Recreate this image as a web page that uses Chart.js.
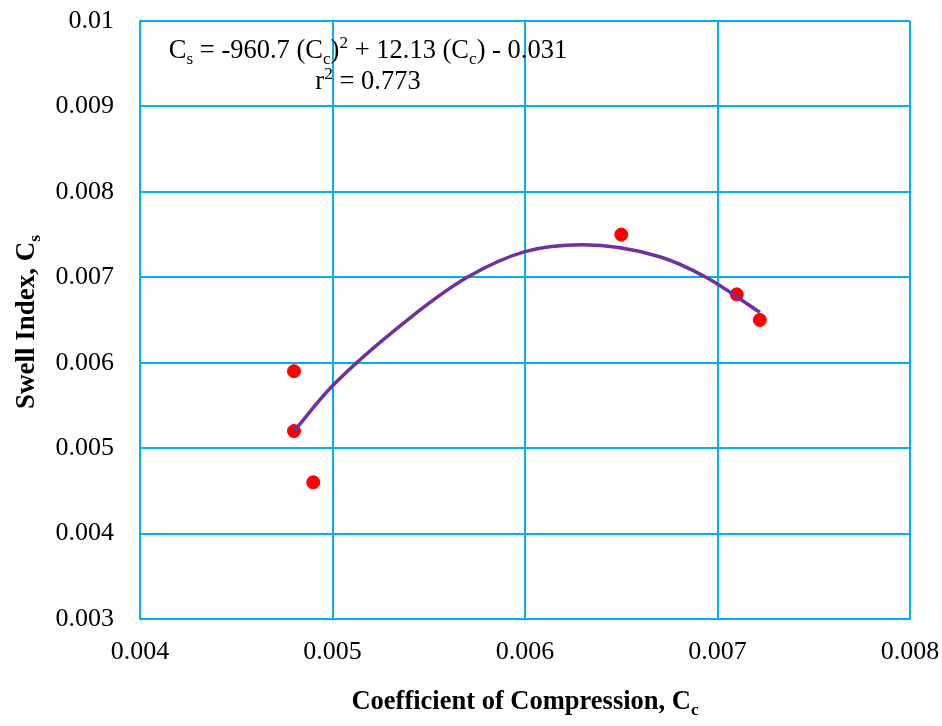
<!DOCTYPE html>
<html>
<head>
<meta charset="utf-8">
<script src="https://cdn.jsdelivr.net/npm/chart.js@4.4.1/dist/chart.umd.min.js"></script>
<style>
  html, body { margin: 0; padding: 0; background: #fff; }
  #wrap { width: 942px; height: 726px; }
</style>
</head>
<body>
<div id="wrap"><canvas id="graficoSwell" width="942" height="726"></canvas></div>
<script>
// dados medidos (Cc, Cs)
const ccMedido = [0.0048, 0.0048, 0.0049, 0.0065, 0.0071, 0.00722];
const csMedido = [0.0059, 0.0052, 0.0046, 0.0075, 0.0068, 0.0065];

// linha de tendência
const ccTendencia = [0.0048, 0.0050, 0.0054, 0.0057, 0.0060, 0.0063, 0.0067, 0.00694, 0.00722];
const csTendencia = [0.0052, 0.00573, 0.00652, 0.0070, 0.0073, 0.00738, 0.00724, 0.0070, 0.00659];

const xTicks = ['0.004', '0.005', '0.006', '0.007', '0.008'];
const yTicks = ['0.003', '0.004', '0.005', '0.006', '0.007', '0.008', '0.009', '0.01'];

const azulGrade = '#00B0F0';
const fonte = "'Liberation Serif', 'Times New Roman', serif";

// desenha texto com subscrito / sobrescrito, centrado em x
function textoRico(ctx, partes, x, y, tamanho, negrito) {
  const peso = negrito ? 'bold ' : '';
  const tam = p => (p.sub || p.sup ? tamanho * 0.65 : tamanho);
  let total = 0;
  partes.forEach(p => {
    ctx.font = peso + tam(p) + 'px ' + fonte;
    total += ctx.measureText(p.t).width;
  });
  let cx = x - total / 2;
  partes.forEach(p => {
    ctx.font = peso + tam(p) + 'px ' + fonte;
    let dy = 0;
    if (p.sub) dy = tamanho * 0.22;
    if (p.sup) dy = -tamanho * 0.36;
    ctx.fillText(p.t, cx, y + dy);
    cx += ctx.measureText(p.t).width;
  });
}

const textos = {
  id: 'textos',
  beforeDraw(chart) {
    const c = chart.ctx;
    c.save();
    c.fillStyle = '#fff';
    c.fillRect(0, 0, chart.width, chart.height);
    c.restore();
  },
  afterDraw(chart) {
    const c = chart.ctx;
    c.save();
    c.fillStyle = '#000';
    c.textBaseline = 'alphabetic';
    c.textAlign = 'left';
    // equação
    textoRico(c, [
      { t: 'C' }, { t: 's', sub: true }, { t: ' = -960.7 (C' }, { t: 'c', sub: true }, { t: ')' },
      { t: '2', sup: true }, { t: ' + 12.13 (C' }, { t: 'c', sub: true }, { t: ') - 0.031' }
    ], 368, 58, 26.5, false);
    textoRico(c, [{ t: 'r' }, { t: '2', sup: true }, { t: ' = 0.773' }], 368, 89, 26.5, false);
    // título eixo x
    textoRico(c, [{ t: 'Coefficient of Compression, C' }, { t: 'c', sub: true }], 525, 709, 26.5, true);
    // título eixo y
    c.translate(34, 322);
    c.rotate(-Math.PI / 2);
    textoRico(c, [{ t: 'Swell Index, C' }, { t: 's', sub: true }], 0, 0, 27, true);
    c.restore();
  }
};

const ctx = document.getElementById('graficoSwell').getContext('2d');

const meuGrafico = new Chart(ctx, {
  type: 'scatter',
  data: {
    datasets: [{
      label: 'Medido',
      data: ccMedido.map((x, i) => ({ x: x, y: csMedido[i] })),
      backgroundColor: '#FF0000',
      borderColor: '#FF0000',
      pointRadius: 6.5,
      pointHoverRadius: 6.5,
      order: 2
    }, {
      label: 'Tendência',
      data: ccTendencia.map((x, i) => ({ x: x, y: csTendencia[i] })),
      showLine: true,
      borderColor: '#7030A0',
      borderWidth: 3.5,
      pointRadius: 0,
      cubicInterpolationMode: 'monotone',
      fill: false,
      order: 1
    }]
  },
  options: {
    responsive: false,
    animation: false,
    layout: { padding: { top: 21, right: 32, left: 0, bottom: 0 } },
    plugins: {
      legend: { display: false },
      tooltip: { enabled: false }
    },
    scales: {
      x: {
        type: 'linear',
        min: 0.004,
        max: 0.008,
        afterFit: s => {
          s.height = 726 - 619;
          s.paddingLeft = 0;
          s.paddingRight = 0;
        },
        ticks: {
          stepSize: 0.001,
          padding: 18,
          color: '#000',
          font: { family: fonte, size: 26 },
          callback: (v, i) => xTicks[i]
        },
        grid: { color: azulGrade, lineWidth: 2, drawTicks: false },
        border: { color: azulGrade, width: 2 }
      },
      y: {
        type: 'linear',
        min: 0.003,
        max: 0.01,
        afterFit: s => {
          s.width = 140;
          s.paddingTop = 0;
          s.paddingBottom = 0;
        },
        ticks: {
          stepSize: 0.001,
          padding: 26,
          color: '#000',
          font: { family: fonte, size: 26 },
          callback: (v, i) => yTicks[i]
        },
        grid: { color: azulGrade, lineWidth: 2, drawTicks: false },
        border: { color: azulGrade, width: 2 }
      }
    }
  },
  plugins: [textos]
});
</script>
</body>
</html>
